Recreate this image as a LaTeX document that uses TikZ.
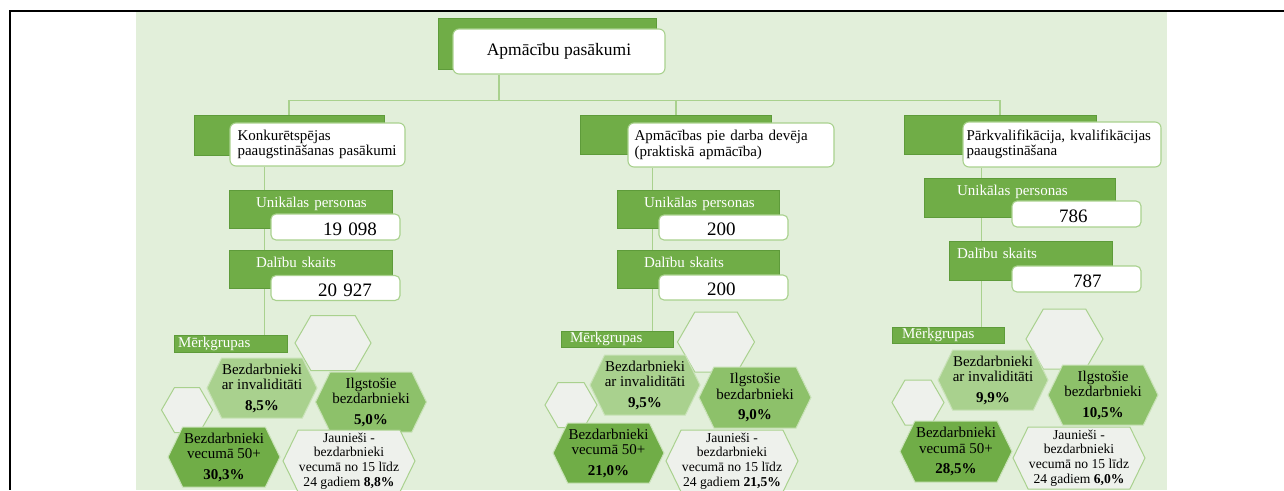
\documentclass[tikz,border=0pt]{standalone}
\usepackage{fontspec}
\setmainfont{Liberation Serif}
\usetikzlibrary{shapes.symbols}
\definecolor{bggreen}{HTML}{E2EFDA}
\definecolor{dkgreen}{HTML}{70AD47}
\definecolor{dkborder}{HTML}{5E9B3A}
\definecolor{ltgreen}{HTML}{A9D18E}
\definecolor{midgreen}{HTML}{8DC16A}
\definecolor{hexgray}{HTML}{EEF1EC}
\definecolor{hexline}{HTML}{C9E2B8}
\newcommand\fsTitle{\fontsize{17.5}{19}\selectfont}
\newcommand\fsBody{\fontsize{15}{15.5}\selectfont}
\newcommand\fsNum{\fontsize{19}{19}\selectfont}
\newcommand\fsSmall{\fontsize{13.6}{14.6}\selectfont}
\pgfdeclarelayer{bg}
\pgfdeclarelayer{lines}
\pgfsetlayers{bg,lines,main}
\begin{document}
\begin{tikzpicture}[x=1pt,y=-1pt,
  grect/.style={rectangle, fill=dkgreen, draw=dkborder, line width=0.6pt, inner sep=0pt},
  gtext/.style={grect, text=white, font=\fsBody, align=left, text height=10pt, text depth=14pt},
  mgbar/.style={grect, text=white, font=\fsBody, align=left, text height=10pt, text depth=3pt},
  wbox/.style={rectangle, rounded corners=6pt, fill=white, draw=ltgreen, line width=1.1pt, inner sep=0pt},
  cbox/.style={wbox, align=left, font=\fsBody},
  nbox/.style={wbox, rounded corners=5pt, align=left, font=\fsNum, text height=16pt, text depth=0pt},
  conn/.style={draw=ltgreen, line width=1.3pt},
  hexE/.style={signal, signal to=east and west, signal pointer angle=120, fill=hexgray, draw=ltgreen, line width=1pt, inner sep=0pt},
  hexC/.style={signal, signal to=east and west, signal pointer angle=128, draw=hexline, line width=1pt, inner sep=0pt, align=center, font=\fsBody},
  hexJ/.style={hexC, fill=hexgray, draw=ltgreen, font=\fsSmall}
]
\clip (0,0) rectangle (1284,490);
% frame
\draw[line width=2pt] (9,11) -- (1284,11);
\draw[line width=2.5pt] (10,10) -- (10,490);
\begin{pgfonlayer}{bg}
\fill[bggreen] (136,12) rectangle (1167,490);
\end{pgfonlayer}

% top
\node[grect, minimum width=218pt, minimum height=51pt] (topG) at (547,43.5) {};
\node[wbox, minimum width=212pt, minimum height=45pt, font=\fsTitle] (topW) at (559,51.5) {Apmācību pasākumi};

% children
\node[grect, minimum width=190pt, minimum height=40pt] (c1G) at (289,135) {};
\node[cbox, minimum width=175pt, minimum height=43pt, text width=174pt] (c1W) at (317.5,144.5) {\hspace*{7pt}Konkurētspējas\\\hspace*{7pt}paaugstināšanas pasākumi};
\node[grect, minimum width=191pt, minimum height=39pt] (c2G) at (676,134.5) {};
\node[cbox, minimum width=206pt, minimum height=44pt, text width=205pt] (c2W) at (731,145) {\hspace*{6pt}Apmācības pie darba devēja\\\hspace*{6pt}(praktiskā apmācība)};
\node[grect, minimum width=192pt, minimum height=39pt] (c3G) at (1000,134.5) {};
\node[cbox, minimum width=198pt, minimum height=45pt, text width=197pt] (c3W) at (1062,144.5) {\hspace*{3pt}Pārkvalifikācija, kvalifikācijas\\\hspace*{3pt}paaugstināšana};

% column 1 numbers
\node[gtext, minimum width=163pt, minimum height=38pt, text width=163pt] (u1G) at (310.5,209) {\hspace*{27pt}Unikālas personas};
\node[nbox, minimum width=129pt, minimum height=26pt, text width=129pt] (u1W) at (335.5,227) {\hspace*{52pt}19 098};
\node[gtext, minimum width=163pt, minimum height=38pt, text width=163pt] (d1G) at (310.5,269) {\hspace*{27pt}Dalību skaits};
\node[nbox, minimum width=129pt, minimum height=25pt, text width=129pt] (d1W) at (335.5,288) {\hspace*{47pt}20 927};
% column 2 numbers
\node[gtext, minimum width=162pt, minimum height=38pt, text width=162pt] (u2G) at (698,209) {\hspace*{27pt}Unikālas personas};
\node[nbox, minimum width=129pt, minimum height=25pt, text width=129pt] (u2W) at (723.5,227.5) {\hspace*{48pt}200};
\node[gtext, minimum width=162pt, minimum height=38pt, text width=162pt] (d2G) at (698,269) {\hspace*{27pt}Dalību skaits};
\node[nbox, minimum width=129pt, minimum height=25pt, text width=129pt] (d2W) at (723.5,287.5) {\hspace*{48pt}200};
% column 3 numbers
\node[gtext, minimum width=191pt, minimum height=39pt, text width=191pt] (u3G) at (1019.5,197.5) {\hspace*{33pt}Unikālas personas};
\node[nbox, minimum width=129pt, minimum height=26pt, text width=129pt] (u3W) at (1076.5,214) {\hspace*{47pt}786};
\node[gtext, minimum width=163pt, minimum height=39pt, text width=163pt] (d3G) at (1030.5,260.5) {\hspace*{8pt}Dalību skaits};
\node[nbox, minimum width=129pt, minimum height=26pt, text width=129pt] (d3W) at (1076.5,279) {\hspace*{61pt}787};

% target group bars
\node[mgbar, minimum width=113pt, minimum height=17pt, text width=113pt] (mg1) at (230.5,343.5) {\hspace*{4pt}Mērķgrupas};
\node[mgbar, minimum width=112pt, minimum height=16pt, text width=112pt] (mg2) at (617,339) {\hspace*{9pt}Mērķgrupas};
\node[mgbar, minimum width=112pt, minimum height=16pt, text width=112pt] (mg3) at (948,335) {\hspace*{10pt}Mērķgrupas};

% hexagons column 1
\node[hexE, minimum width=76pt, minimum height=55pt] (e1a) at (333,343) {};
\node[hexE, minimum width=51pt, minimum height=45pt] (e1b) at (187,410) {};
\node[hexC, fill=ltgreen, minimum width=110pt, minimum height=60pt] (h1a) at (262,388) {Bezdarbnieki\\ar invaliditāti\\[5pt]\textbf{8,5\%}};
\node[hexC, fill=midgreen, minimum width=111pt, minimum height=60pt] (h1b) at (371,402) {Ilgstošie\\bezdarbnieki\\[5pt]\textbf{5,0\%}};
\node[hexC, fill=dkgreen, minimum width=112pt, minimum height=60pt] (h1c) at (224,457) {Bezdarbnieki\\vecumā 50+\\[5pt]\textbf{30,3\%}};
\node[hexJ, minimum width=132pt, minimum height=62pt] (h1d) at (349,461) {Jaunieši -\\bezdarbnieki\\vecumā no 15 līdz\\24 gadiem \textbf{8,8\%}};
% hexagons column 2
\node[hexE, minimum width=77pt, minimum height=60pt] (e2a) at (716,342) {};
\node[hexE, minimum width=52pt, minimum height=45pt] (e2b) at (571,405) {};
\node[hexC, fill=ltgreen, minimum width=110pt, minimum height=60pt] (h2a) at (645,385) {Bezdarbnieki\\ar invaliditāti\\[5pt]\textbf{9,5\%}};
\node[hexC, fill=midgreen, minimum width=112pt, minimum height=61pt] (h2b) at (755,397.5) {Ilgstošie\\bezdarbnieki\\[5pt]\textbf{9,0\%}};
\node[hexC, fill=dkgreen, minimum width=111pt, minimum height=60pt] (h2c) at (608.5,453) {Bezdarbnieki\\vecumā 50+\\[5pt]\textbf{21,0\%}};
\node[hexJ, minimum width=132pt, minimum height=62pt] (h2d) at (732,461) {Jaunieši -\\bezdarbnieki\\vecumā no 15 līdz\\24 gadiem \textbf{21,5\%}};
% hexagons column 3
\node[hexE, minimum width=77pt, minimum height=60pt] (e3a) at (1064.5,339) {};
\node[hexE, minimum width=52pt, minimum height=45pt] (e3b) at (918,402.5) {};
\node[hexC, fill=ltgreen, minimum width=110pt, minimum height=60pt] (h3a) at (993,380) {Bezdarbnieki\\ar invaliditāti\\[5pt]\textbf{9,9\%}};
\node[hexC, fill=midgreen, minimum width=110pt, minimum height=60pt] (h3b) at (1103,395) {Ilgstošie\\bezdarbnieki\\[5pt]\textbf{10,5\%}};
\node[hexC, fill=dkgreen, minimum width=112pt, minimum height=61pt] (h3c) at (956,451.5) {Bezdarbnieki\\vecumā 50+\\[5pt]\textbf{28,5\%}};
\node[hexJ, minimum width=132pt, minimum height=62pt] (h3d) at (1079,458) {Jaunieši -\\bezdarbnieki\\vecumā no 15 līdz\\24 gadiem \textbf{6,0\%}};

% connectors
\begin{pgfonlayer}{lines}
\draw[conn] ([xshift=-60pt]topW.south) -- ++(0,26) coordinate (bus);
\draw[conn] (bus) -| (c1G.north);
\draw[conn] (bus) -| (c2G.north);
\draw[conn] (bus) -| (c3G.north);
\coordinate (s1) at ([xshift=35pt]c1W.south west);
\coordinate (s2) at ([xshift=25pt]c2W.south west);
\coordinate (s3) at ([xshift=19pt]c3W.south west);
\draw[conn] (s1) -- (s1 |- mg1.south);
\draw[conn] (s2) -- (s2 |- mg2.south);
\draw[conn] (s3) -- (s3 |- mg3.south);
\end{pgfonlayer}
\end{tikzpicture}
\end{document}
